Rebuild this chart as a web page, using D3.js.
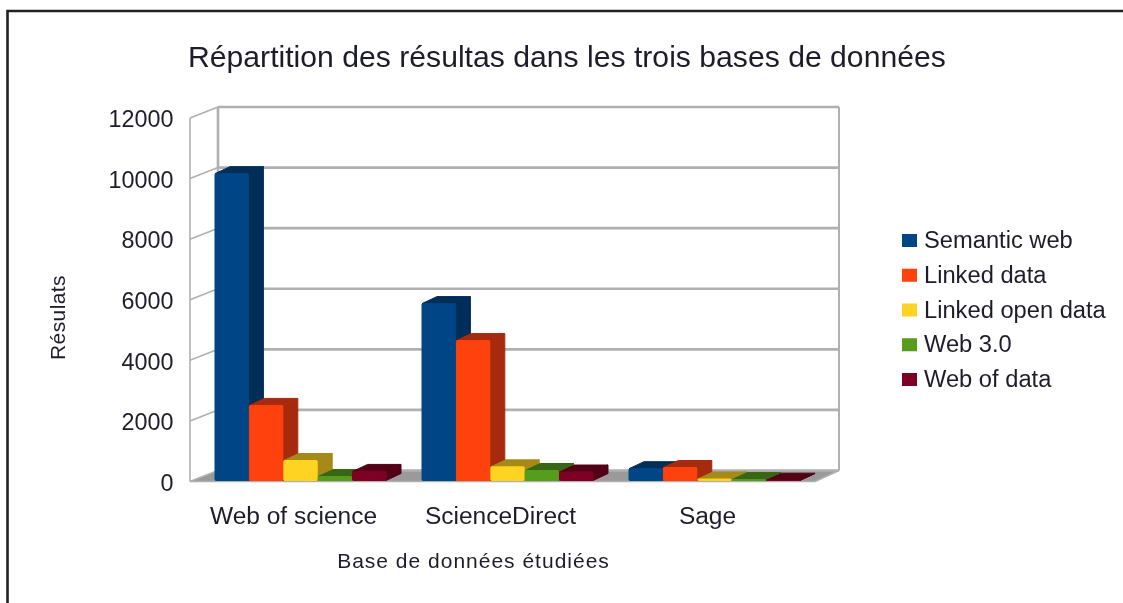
<!DOCTYPE html>
<html>
<head>
<meta charset="utf-8">
<script src="https://cdn.jsdelivr.net/npm/d3@7"></script>
<style>
  html, body { margin: 0; padding: 0; background: #fff; overflow: hidden; }
  svg { display: block; }
  text { font-family: "Liberation Sans", Arial, sans-serif; fill: #1c1c2a; }
</style>
</head>
<body>
<div id="chart"></div>
<script>
const chartTitle = 'Répartition des résultas dans les trois bases de données';
const yTitle = 'Résulats';
const xTitle = 'Base de données étudiées';
const categories = ['Web of science', 'ScienceDirect', 'Sage'];
const seriesNames = ['Semantic web', 'Linked data', 'Linked open data', 'Web 3.0', 'Web of data'];
const semanticWeb = [10130, 5840, 390];
const linkedData = [2480, 4620, 430];
const linkedOpenData = [660, 450, 50];
const web30 = [130, 330, 30];
const webOfData = [300, 280, 10];
const yTicks = [0, 2000, 4000, 6000, 8000, 10000, 12000];
const faceColors = ['#004586', '#ff420e', '#ffd320', '#579d1c', '#7e0021'];
const sideColors = ['#002d59', '#a62b09', '#a68915', '#396612', '#520015'];

const seriesValues = [semanticWeb, linkedData, linkedOpenData, web30, webOfData];

const width = 1123, height = 603;
const svg = d3.select('#chart').append('svg')
  .attr('width', width)
  .attr('height', height);

// Slight softening, the reference is an upscaled screenshot
const defs = svg.append('defs');
defs.append('filter').attr('id', 'soft')
  .attr('x', '-5%').attr('y', '-5%').attr('width', '110%').attr('height', '110%')
  .append('feGaussianBlur').attr('stdDeviation', 0.6);

const root = svg.append('g').attr('filter', 'url(#soft)');

// The screenshot is stretched sideways, so widen the glyphs to match
function stretch(selection, factor) {
  selection.each(function () {
    const len = this.getComputedTextLength();
    d3.select(this)
      .attr('textLength', len * factor)
      .attr('lengthAdjust', 'spacingAndGlyphs');
  });
}

// Outer frame
root.append('path')
  .attr('d', `M7.5,${height + 5} V11 H${width + 5}`)
  .attr('fill', 'none')
  .attr('stroke', '#222')
  .attr('stroke-width', 2.6);

// Scales
const wallDx = 28, wallDy = -11;   // depth of the 3D box
const barDx = 15, barDy = -7;      // depth of a bar
const plotLeft = 190, plotRight = 811;

const y = d3.scaleLinear().domain([0, 12000]).range([481.5, 118]);
const xGroup = d3.scaleBand().domain(categories).range([plotLeft, plotRight]);
const xBar = d3.scaleBand().domain(seriesNames).range([25, 197]);
const line = d3.line();

// Floor
root.append('path')
  .attr('d', line([
    [plotLeft, y(0)], [plotRight + 4, y(0)],
    [plotRight + 4 + wallDx - 4, y(0) + wallDy], [plotLeft + wallDx, y(0) + wallDy]
  ]) + 'Z')
  .attr('fill', '#9a9a9a');

// Back wall and left wall grid
const grid = root.append('g').attr('fill', 'none').attr('stroke', '#b0b0b0');
grid.selectAll('.back')
  .data(yTicks)
  .join('line')
  .attr('x1', plotLeft + wallDx)
  .attr('x2', plotRight + wallDx)
  .attr('y1', d => y(d) + wallDy)
  .attr('y2', d => y(d) + wallDy)
  .attr('stroke-width', 2.6);
grid.selectAll('.side')
  .data(yTicks)
  .join('line')
  .attr('x1', plotLeft)
  .attr('x2', plotLeft + wallDx)
  .attr('y1', d => y(d))
  .attr('y2', d => y(d) + wallDy)
  .attr('stroke-width', 1.6);
grid.append('line')
  .attr('x1', plotLeft + wallDx).attr('x2', plotLeft + wallDx)
  .attr('y1', y(12000) + wallDy).attr('y2', y(0) + wallDy)
  .attr('stroke-width', 2.6);
grid.append('line')
  .attr('x1', plotRight + wallDx).attr('x2', plotRight + wallDx)
  .attr('y1', y(12000) + wallDy).attr('y2', y(0) + wallDy)
  .attr('stroke-width', 2);
grid.append('line')
  .attr('x1', plotLeft).attr('x2', plotLeft)
  .attr('y1', y(12000)).attr('y2', y(0))
  .attr('stroke-width', 1.6);
grid.append('line')
  .attr('x1', plotLeft).attr('x2', plotRight + 4)
  .attr('y1', y(0)).attr('y2', y(0))
  .attr('stroke-width', 1.6);
grid.append('line')
  .attr('x1', plotRight + 4).attr('x2', plotRight + wallDx)
  .attr('y1', y(0)).attr('y2', y(0) + wallDy)
  .attr('stroke-width', 1.6);

// Bars
const barBase = y(0) - 1;
const barHeight = v => y(0) - y(v);
categories.forEach((cat, c) => {
  const g = root.append('g');
  seriesValues.forEach((values, s) => {
    const x0 = xGroup(cat) + xBar(seriesNames[s]);
    const x1 = x0 + xBar.bandwidth() - 1;
    const top = barBase - barHeight(values[c]);
    const bar = g.append('g')
      .attr('stroke-linejoin', 'round')
      .attr('stroke-width', 1);
    // side
    bar.append('path')
      .attr('d', line([[x1, barBase], [x1 + barDx, barBase + barDy], [x1 + barDx, top + barDy], [x1, top]]) + 'Z')
      .attr('fill', sideColors[s])
      .attr('stroke', sideColors[s]);
    // top
    bar.append('path')
      .attr('d', line([[x0, top], [x0 + barDx, top + barDy], [x1 + barDx, top + barDy], [x1, top]]) + 'Z')
      .attr('fill', sideColors[s])
      .attr('stroke', sideColors[s]);
    // front
    bar.append('rect')
      .attr('x', x0)
      .attr('y', top)
      .attr('width', x1 - x0)
      .attr('height', barBase - top)
      .attr('rx', 1)
      .attr('fill', faceColors[s])
      .attr('stroke', faceColors[s]);
  });
});

// Y axis labels
const yAxis = d3.axisLeft(y).tickValues(yTicks).tickFormat(d3.format('d')).tickSize(0).tickPadding(0);
const yAxisG = root.append('g')
  .attr('transform', 'translate(173.5,0)')
  .call(yAxis);
yAxisG.select('.domain').remove();
yAxisG.selectAll('text')
  .attr('font-size', 23)
  .attr('font-family', null)
  .attr('dy', '0.38em')
  .call(stretch, 1.015);

// X axis labels
const xAxis = d3.axisBottom(xGroup).tickSize(0).tickPadding(0);
const xAxisG = root.append('g')
  .attr('transform', 'translate(0,524)')
  .call(xAxis);
xAxisG.select('.domain').remove();
xAxisG.selectAll('text')
  .attr('font-size', 23)
  .attr('font-family', null)
  .attr('dy', 0)
  .call(stretch, 1.065);

// Titles
root.append('text')
  .attr('x', 188).attr('y', 67)
  .attr('font-size', 29)
  .text(chartTitle)
  .call(stretch, 1.04);
root.append('text')
  .attr('x', 473.5).attr('y', 568)
  .attr('text-anchor', 'middle')
  .attr('font-size', 21)
  .attr('letter-spacing', 1)
  .text(xTitle);
root.append('text')
  .attr('transform', 'translate(65,317.5) rotate(-90)')
  .attr('text-anchor', 'middle')
  .attr('font-size', 21)
  .attr('letter-spacing', 0.4)
  .text(yTitle);

// Legend
const legendY = d3.scalePoint().domain(seriesNames).range([240, 379]);
const legend = root.append('g');
seriesNames.forEach((name, i) => {
  legend.append('rect')
    .attr('x', 902)
    .attr('y', legendY(name) - 6)
    .attr('width', 15)
    .attr('height', 13)
    .attr('fill', faceColors[i]);
  legend.append('text')
    .attr('x', 924)
    .attr('y', legendY(name) + 8)
    .attr('font-size', 23)
    .text(name)
    .call(stretch, 1.03);
});
</script>
</body>
</html>
